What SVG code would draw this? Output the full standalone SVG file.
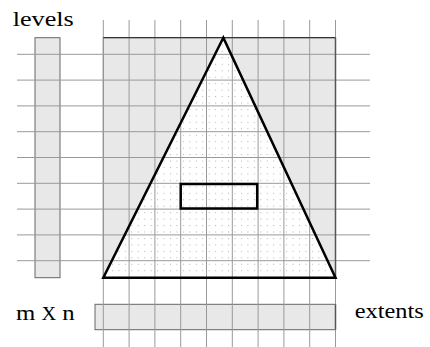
<svg xmlns="http://www.w3.org/2000/svg" width="430" height="347" viewBox="0 0 430 347">
<style>
.box{fill:#e8e8e8;stroke:#666;stroke-width:1}
.grid line{stroke:#999;stroke-width:1}
.lbl{font-family:'Liberation Serif','Times New Roman',serif;fill:#000}
.thick{fill:none;stroke:#000;stroke-width:2.5;stroke-linejoin:miter}
</style>
<defs>
<pattern id="dots" patternUnits="userSpaceOnUse" x="105.5" y="38" width="6.45" height="6.45">
<rect width="6.45" height="6.45" fill="#fff"/>
<rect x="0" y="0" width="1" height="1" fill="#b4b4b4"/>
</pattern>
</defs>
<rect width="430" height="347" fill="#fff"/>
<g id="levels">
<rect class="box" x="35" y="37.7" width="25" height="240"/>
<text class="lbl" x="12.7" y="26" font-size="20" textLength="61" lengthAdjust="spacingAndGlyphs">levels</text>
</g>
<g id="region">
<rect class="box" x="103.3" y="37.7" width="232.2" height="240" stroke="#444"/>
</g>
<g id="extents">
<rect class="box" x="95" y="304.3" width="240.5" height="25.4"/>
<text class="lbl" x="354.7" y="318.3" font-size="22" textLength="69" lengthAdjust="spacingAndGlyphs">extents</text>
</g>
<g id="triangle">
<polygon points="223.3,37.7 103.3,277.7 335.5,277.7" fill="url(#dots)"/>
</g>
<g id="connectors" class="grid">
<line x1="103.3" y1="20" x2="103.3" y2="347"/>
<line x1="129.1" y1="20" x2="129.1" y2="347"/>
<line x1="154.9" y1="20" x2="154.9" y2="347"/>
<line x1="180.7" y1="20" x2="180.7" y2="347"/>
<line x1="206.5" y1="20" x2="206.5" y2="347"/>
<line x1="232.3" y1="20" x2="232.3" y2="347"/>
<line x1="258.1" y1="20" x2="258.1" y2="347"/>
<line x1="283.9" y1="20" x2="283.9" y2="347"/>
<line x1="309.7" y1="20" x2="309.7" y2="347"/>
<line x1="335.5" y1="20" x2="335.5" y2="347"/>
<line x1="17" y1="54.3" x2="370" y2="54.3"/>
<line x1="17" y1="80.1" x2="370" y2="80.1"/>
<line x1="17" y1="105.9" x2="370" y2="105.9"/>
<line x1="17" y1="131.7" x2="370" y2="131.7"/>
<line x1="17" y1="157.5" x2="370" y2="157.5"/>
<line x1="17" y1="183.3" x2="370" y2="183.3"/>
<line x1="17" y1="209.1" x2="370" y2="209.1"/>
<line x1="17" y1="234.9" x2="370" y2="234.9"/>
<line x1="17" y1="260.7" x2="370" y2="260.7"/>
</g>
<g id="outlines">
<line x1="103.3" y1="37.7" x2="335.5" y2="37.7" stroke="#222" stroke-width="1"/>
<line x1="335.5" y1="37.7" x2="335.5" y2="277.7" stroke="#555" stroke-width="1.5"/>
<line x1="335.5" y1="304.3" x2="335.5" y2="329.7" stroke="#555" stroke-width="1.5"/>
</g>
<g id="triangle-outline">
<polygon class="thick" points="223.3,37.7 103.3,277.7 335.5,277.7"/>
</g>
<g id="query">
<rect class="thick" x="180.7" y="184" width="76.5" height="24.5"/>
</g>
<g id="size">
<text class="lbl" x="16" y="320" font-size="22" textLength="58.7" lengthAdjust="spacingAndGlyphs">m <tspan font-size="18">X</tspan> n</text>
</g>
</svg>
